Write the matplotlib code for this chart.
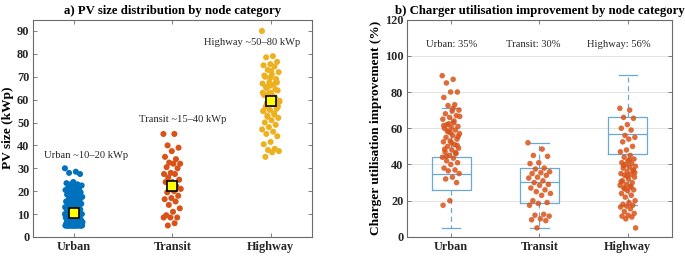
import numpy as np
import matplotlib
matplotlib.use("Agg")
import matplotlib.pyplot as plt

plt.rcParams['font.family'] = ['Liberation Serif', 'DejaVu Serif']

categories = ["Urban", "Transit", "Highway"]

# ---- Panel a: PV size (kWp) ----
pv_urban = [30, 28.5, 28, 27.5, 24, 23.5, 23, 23, 22.5, 22, 21.5, 21, 21, 20.5, 20, 20,
            19.5, 19, 18.5, 18, 18, 17.5, 17, 16.5, 16, 16, 15.5, 15, 15, 14.5, 14, 14,
            13.5, 13, 13, 12.5, 12, 12, 11.5, 11, 11, 10.5, 10, 10, 9.5, 9, 9, 8.5, 8, 8,
            7.5, 7.5, 7, 7, 7, 6.5, 6.5, 6.5, 6, 6, 6, 6, 5.5, 5.5, 5.5, 5.5, 5.5,
            5, 5, 5, 5, 5, 5, 5, 5, 5, 5, 5, 5, 5, 5, 5, 5, 5, 5, 5, 5,
            8, 9, 10, 11, 12, 6, 7, 8, 9, 10]
pv_transit = [45, 45, 40, 39, 37.5, 35, 34, 32.5, 32, 32, 30.5, 30, 28, 27.5, 27.5, 26,
              25, 24, 24, 22, 21.5, 21, 20, 19.5, 18, 17, 16.5, 15.5, 14, 12.5, 11,
              9.5, 8.5, 8.5, 8.5, 6, 5]
pv_highway = [90, 79, 78.5, 76.5, 75.5, 75, 74.5, 73, 72, 71, 70, 69, 67.5, 67, 66.5, 65,
              64, 63, 62, 61, 60, 59, 58, 57, 56, 55.5, 55, 54, 53, 52, 51, 50, 49, 48,
              47, 46, 45, 44, 41.5, 40.5, 38.5, 38, 37.5, 37, 35, 68, 66, 63, 60.5, 58.5,
              57, 72.5, 70.5, 64.5, 62.5, 59.5, 61.5, 65.5, 67.5, 69.5, 55, 53.5, 52.5]
pv_means = [10.6, 22.2, 59.5]
pv_labels = ["Urban ~10\u201320 kWp", "Transit ~15\u201340 kWp", "Highway ~50\u201380 kWp"]

# ---- Panel b: charger utilisation improvement (%) ----
util_urban = [89, 87, 85, 80, 80, 77, 73, 72.5, 70, 69.5, 68, 67, 66, 65, 63, 62, 61,
              60.5, 60, 59, 58, 57, 56, 55, 54, 53, 52.5, 51, 50, 49, 48, 47, 46, 45,
              44, 43.5, 42, 41, 40, 38, 37, 36.5, 35, 33, 32, 30, 20, 17.5,
              64, 58.5, 55.5, 52, 48.5, 46.5, 62.5, 66.5, 71, 44.5, 50.5, 57.5, 61.5]
util_transit = [52, 48.5, 45, 44.5, 41, 40.5, 38, 37.5, 36, 35.5, 35, 34, 33, 32.5, 31, 30,
                29, 28.5, 27, 26, 25, 24, 23, 20, 19, 18.5, 17.5, 12.5, 12, 11.5, 10, 9.5,
                9, 5]
util_highway = [71, 70, 66, 65.5, 62, 60, 59, 56, 55, 54, 52.5, 50, 48, 47, 45, 44, 43, 42,
                41, 40.5, 40, 39, 38.5, 38, 37, 36, 35, 34.5, 34, 33, 32, 31, 30, 29, 28.5,
                27.5, 27, 26, 25.5, 24, 23, 22, 20, 19, 18, 17.5, 17, 16.5, 15.5, 14, 13,
                12, 11.5, 11, 10, 5, 42.5, 39.5, 36.5, 33.5, 30.5, 28, 26.5, 35.5]
util_pct_labels = ["Urban: 35%", "Transit: 30%", "Highway: 56%"]

# box statistics (as drawn in the reference)
box_q1 = [26, 19, 45.6]
box_med = [34.8, 30.4, 56.6]
box_q3 = [44, 37.8, 66]
box_lo = [5, 5, 17.5]
box_hi = [71.3, 52, 89.3]

colors_a = ["#0072BD", "#D95319", "#EDB120"]
util_color = "#D95319"
box_color = "#6AAAD2"
spine_color = "#6b6b6b"


def jitter(n, width=0.09):
    return ((np.arange(n) * 0.6180339887) % 1.0 - 0.5) * 2 * width


fig = plt.figure(figsize=(6.85, 2.57), dpi=100)
ax1 = fig.add_axes([0.048, 0.078, 0.407, 0.846])
ax2 = fig.add_axes([0.594, 0.078, 0.387, 0.846])


def style_axes(ax):
    for s in ax.spines.values():
        s.set_color(spine_color)
        s.set_linewidth(0.8)
    ax.tick_params(direction='in', top=True, right=True, length=3, width=0.6,
                   color=spine_color, labelsize=8.8, pad=3)
    ax.tick_params(axis='y', pad=2.5)
    for lab in ax.get_xticklabels() + ax.get_yticklabels():
        lab.set_fontweight('bold')
        lab.set_color('#262626')


# Panel a
for i, (vals, c) in enumerate(zip([pv_urban, pv_transit, pv_highway], colors_a)):
    x = i + 1 + jitter(len(vals))
    ax1.scatter(x, vals, s=19, color=c, edgecolors='none', zorder=3)
    ax1.plot(i + 1, pv_means[i], marker='s', ms=6.5, mfc='#FFFF00', mec='black',
             mew=1.2, zorder=4, ls='none')
text_pos_a = [(1.12, 35.7), (2.11, 51.5), (2.81, 85)]
for lab, (tx, ty) in zip(pv_labels, text_pos_a):
    ax1.text(tx, ty, lab, ha='center', va='center', fontsize=7.6, color='#262626')
ax1.set_xlim(0.585, 3.415)
ax1.set_ylim(0, 95)
ax1.set_xticks([1, 2, 3])
ax1.set_xticklabels(categories)
ax1.set_yticks(np.arange(0, 91, 10))
ax1.set_ylabel("PV size (kWp)", fontsize=9.6, fontweight='bold', labelpad=2)
ax1.set_title("a) PV size distribution by node category", fontsize=9.2,
              fontweight='bold', pad=4)
style_axes(ax1)

# Panel b
stats = []
for i in range(3):
    stats.append(dict(med=box_med[i], q1=box_q1[i], q3=box_q3[i],
                      whislo=box_lo[i], whishi=box_hi[i], fliers=[]))
ax2.bxp(stats, positions=[1, 2, 3], widths=0.44, capwidths=0.21, showfliers=False,
        boxprops=dict(color=box_color, lw=0.9),
        whiskerprops=dict(color=box_color, lw=0.9, ls=(0, (4, 3))),
        capprops=dict(color=box_color, lw=0.9),
        medianprops=dict(color=box_color, lw=0.9), manage_ticks=False)
jit_b = [0.1, 0.13, 0.09]
for i, vals in enumerate([util_urban, util_transit, util_highway]):
    x = i + 1 + jitter(len(vals), jit_b[i])
    ax2.scatter(x, vals, s=16, color=util_color, alpha=0.85, edgecolors='none', zorder=3)
text_pos_b = [(1.01, 106.4), (1.93, 106.4), (2.9, 106.4)]
for lab, (tx, ty) in zip(util_pct_labels, text_pos_b):
    ax2.text(tx, ty, lab, ha='center', va='center', fontsize=7.6, color='#262626')
ax2.set_xlim(0.5, 3.5)
ax2.set_ylim(0, 120)
ax2.set_xticks([1, 2, 3])
ax2.set_xticklabels(categories)
ax2.set_yticks(np.arange(0, 121, 20))
ax2.yaxis.grid(True, color='#e3e3e3', lw=0.7)
ax2.set_axisbelow(True)
ax2.set_ylabel("Charger utilisation improvement (%)", fontsize=9.6, fontweight='bold',
               labelpad=2)
ax2.set_title("b) Charger utilisation improvement by node category", fontsize=9.2,
              fontweight='bold', pad=4)
style_axes(ax2)

fig.savefig("out.png", dpi=100)
